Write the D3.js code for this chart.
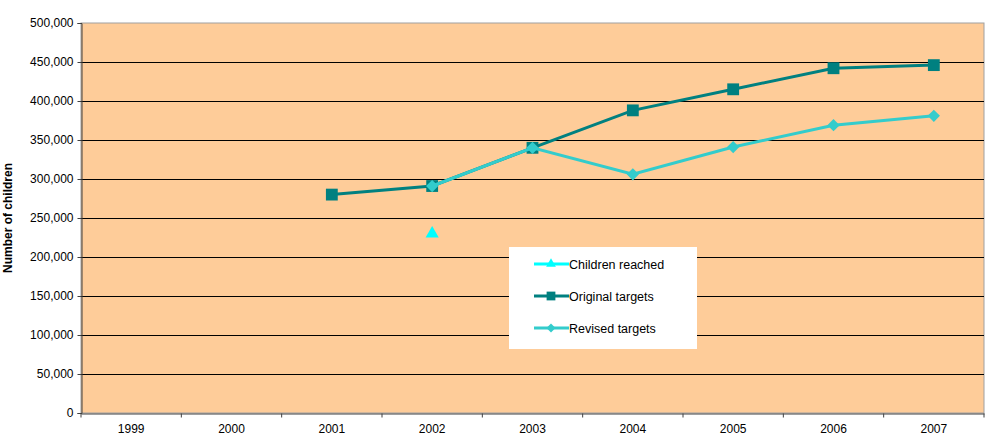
<!doctype html>
<html lang="en">
<head>
<meta charset="utf-8">
<title>Number of children</title>
<style>
html, body { margin: 0; padding: 0; background: #fff; }
svg { display: block; font-family: 'Liberation Sans', Arial, sans-serif; }
</style>
</head>
<body>
<div id="chart"></div>
<script src="https://cdnjs.cloudflare.com/ajax/libs/d3/7.8.5/d3.min.js"></script>
<script>
/* DATA */
var years = ['1999', '2000', '2001', '2002', '2003', '2004', '2005', '2006', '2007'];
var childrenReached = [null, null, null, 230000, null, null, null, null, null];
var originalTargets = [null, null, 280000, 291000, 340000, 388000, 415000, 442000, 446000];
var revisedTargets = [null, null, null, 291000, 340000, 306000, 341000, 369000, 381000];
var yTicks = [0, 50000, 100000, 150000, 200000, 250000, 300000, 350000, 400000, 450000, 500000];

var W = 985, H = 447;
var m = { top: 23, right: 1, bottom: 34, left: 81 };

var svg = d3.select('#chart').append('svg').attr('width', W).attr('height', H);

var x = d3.scaleBand().domain(years).range([m.left, W - m.right]);
var y = d3.scaleLinear().domain([0, 500000]).range([H - m.bottom, m.top]);

// plot area
svg.append('rect')
	.attr('x', m.left).attr('y', m.top)
	.attr('width', W - m.right - m.left).attr('height', H - m.bottom - m.top)
	.attr('fill', '#FECC99').attr('stroke', '#A0A0A0').attr('stroke-width', 1);

// gridlines
svg.append('g').selectAll('line').data(yTicks.filter(function (d) { return d > 0 && d < 500000; })).enter()
	.append('line')
	.attr('x1', m.left).attr('x2', W - m.right)
	.attr('y1', function (d) { return Math.round(y(d)) + 0.5; })
	.attr('y2', function (d) { return Math.round(y(d)) + 0.5; })
	.attr('stroke', '#000').attr('stroke-width', 1);

// axes
var fmt = d3.format(',');
var yAxis = svg.append('g').attr('transform', 'translate(' + (m.left + 0.5) + ',0)')
	.call(d3.axisLeft(y).tickValues(yTicks).tickFormat(function (d) { return fmt(d); }).tickSize(4).tickPadding(4));
var xAxis = svg.append('g').attr('transform', 'translate(0,' + (H - m.bottom + 0.5) + ')')
	.call(d3.axisBottom(x).tickSize(0).tickPadding(11));
// category boundary ticks
xAxis.selectAll('.bound').data(d3.range(years.length + 1)).enter()
	.append('line').attr('class', 'bound')
	.attr('x1', function (i) { return m.left + i * x.step(); })
	.attr('x2', function (i) { return m.left + i * x.step(); })
	.attr('y1', 0).attr('y2', 4).attr('stroke', '#404040');

[yAxis, xAxis].forEach(function (a) {
	a.select('.domain').attr('stroke', '#404040');
	a.selectAll('.tick line').attr('stroke', '#404040');
	a.selectAll('text').attr('font-size', 12).attr('fill', '#000')
		.attr('font-family', "'Liberation Sans', Arial, sans-serif");
});

svg.append('text')
	.attr('transform', 'translate(12,' + ((m.top + H - m.bottom) / 2) + ') rotate(-90)')
	.attr('text-anchor', 'middle')
	.attr('font-size', 12).attr('font-weight', 'bold')
	.text('Number of children');

/* SERIES */
var cx = function (i) { return x(years[i]) + x.bandwidth() / 2; };
var line = d3.line()
	.defined(function (d) { return d != null; })
	.x(function (d, i) { return cx(i); })
	.y(function (d) { return y(d); });

// diamond = square turned 45 degrees
var series = [
	{ name: 'Children reached', values: childrenReached, color: '#00FFFF', symbol: d3.symbolTriangle, size: 75, rot: 0 },
	{ name: 'Original targets', values: originalTargets, color: '#008080', symbol: d3.symbolSquare, size: 140, rot: 0 },
	{ name: 'Revised targets', values: revisedTargets, color: '#33CCCC', symbol: d3.symbolSquare, size: 75, rot: 45 }
];

series.forEach(function (s) {
	svg.append('path').datum(s.values)
		.attr('d', line).attr('fill', 'none')
		.attr('stroke', s.color).attr('stroke-width', 3);
	svg.append('g').selectAll('path')
		.data(s.values.map(function (v, i) { return { v: v, i: i }; }).filter(function (d) { return d.v != null; }))
		.enter().append('path')
		.attr('transform', function (d) { return 'translate(' + cx(d.i) + ',' + y(d.v) + ') rotate(' + s.rot + ')'; })
		.attr('d', d3.symbol().type(s.symbol).size(s.size))
		.attr('fill', s.color);
});

/* LEGEND */
var lg = svg.append('g').attr('transform', 'translate(509,247)');
lg.append('rect').attr('width', 188).attr('height', 102).attr('fill', '#fff');
series.forEach(function (s, i) {
	var ly = 17 + i * 32;
	lg.append('line').attr('x1', 25).attr('x2', 60).attr('y1', ly).attr('y2', ly)
		.attr('stroke', s.color).attr('stroke-width', 3);
	lg.append('path').attr('transform', 'translate(42,' + ly + ') rotate(' + s.rot + ')')
		.attr('d', d3.symbol().type(s.symbol).size(s.size * 0.55)).attr('fill', s.color);
	lg.append('text').attr('x', 60).attr('y', ly + 4.5)
		.attr('font-size', 12.5).text(s.name);
});
</script>
</body>
</html>
